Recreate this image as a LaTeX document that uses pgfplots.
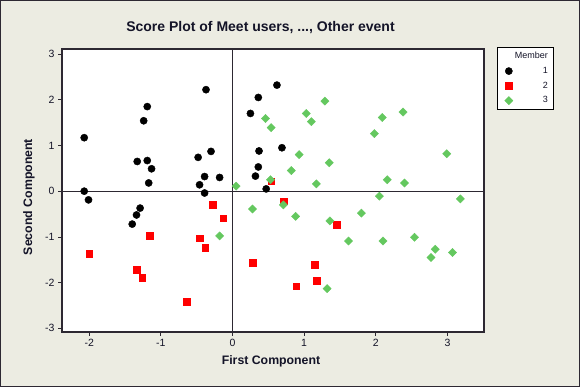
\documentclass[border=0pt]{standalone}
\usepackage{pgfplots}
\pgfplotsset{compat=1.18}
\usepackage{fontspec}
\setmainfont{Liberation Sans}
\definecolor{bgcol}{RGB}{236,236,226}
\definecolor{grn}{RGB}{100,200,95}
\definecolor{frame}{RGB}{45,40,50}
\definecolor{txt}{RGB}{20,20,40}
\begin{document}
\begin{tikzpicture}[x=1pt,y=1pt]
\fill[bgcol] (0,0) rectangle (580,387);
\draw[frame, line width=1pt] (0.5,0.5) rectangle (579.5,386.5);
\node[txt, font=\fontsize{14}{16}\selectfont\bfseries] at (260.5,359) {Score Plot of Meet users, ..., Other event};
\node[txt, font=\fontsize{12.3}{14}\selectfont\bfseries] at (271,25.5) {First Component};
\node[txt, font=\fontsize{12.3}{14}\selectfont\bfseries, rotate=90] at (29,190) {Second Component};
\begin{axis}[at={(62pt,55pt)}, anchor=south west, scale only axis,
  width=422pt, height=283pt,
  xmin=-2.38, xmax=3.51, ymin=-3.08, ymax=3.11,
  axis background/.style={fill=white},
  xtick={-2,-1,0,1,2,3}, ytick={-3,-2,-1,0,1,2,3},
  tick align=outside, xtick pos=bottom, ytick pos=left,
  major tick length=4pt,
  axis line style={line width=1.2pt, color=frame},
  tick style={frame, line width=0.8pt},
  tick label style={font=\fontsize{10.5}{12}\selectfont, text=txt},
  /pgf/number format/assume math mode=true,
  legend style={at={(1.031,1.007)}, anchor=north west, draw=black, fill=white,
    font=\fontsize{9}{10}\selectfont, row sep=3pt, inner sep=3pt, text=txt},
  legend cell align=right,
]
\draw[frame, line width=0.8pt] (axis cs:0,-3.08) -- (axis cs:0,3.11);
\draw[frame, line width=0.8pt] (axis cs:-2.38,0) -- (axis cs:3.51,0);
\addlegendimage{empty legend}
\addlegendentry{Member}
\addplot[only marks, mark=*, mark size=3.6pt, black] coordinates {
(-0.37,2.22) (-1.19,1.85) (-1.24,1.54) (-2.07,1.17) (-0.30,0.87) (-0.48,0.74)
(-1.33,0.65) (-1.19,0.67) (-1.13,0.49) (-1.17,0.18) (-0.39,0.32) (-0.18,0.30)
(-0.46,0.14) (-0.39,-0.04) (-2.07,0.00) (-2.01,-0.19) (-1.29,-0.37) (-1.34,-0.52)
(-1.40,-0.72) (0.62,2.32) (0.36,2.05) (0.25,1.70) (0.69,0.95) (0.37,0.88)
(0.36,0.53) (0.32,0.33) (0.47,0.05)
};
\addlegendentry{\makebox[30pt][r]{1}}
\addplot[only marks, mark=square*, mark size=3.4pt, red] coordinates {
(-0.28,-0.30) (-0.13,-0.59) (-1.16,-0.98) (-0.46,-1.03) (-0.38,-1.23) (-2.00,-1.36)
(-1.34,-1.71) (-1.26,-1.89) (-0.64,-2.41) (0.54,0.22) (0.71,-0.22) (1.45,-0.74)
(0.28,-1.56) (1.15,-1.60) (1.17,-1.95) (0.89,-2.08)
};
\addlegendentry{\makebox[30pt][r]{2}}
\addplot[only marks, mark=square*, mark size=2.9pt, mark options={rotate=45}, grn] coordinates {
(1.29,1.97) (1.03,1.70) (0.46,1.59) (1.10,1.52) (0.54,1.39) (2.38,1.73)
(2.09,1.61) (1.98,1.26) (0.93,0.80) (2.99,0.82) (1.35,0.62) (0.82,0.45)
(0.53,0.25) (0.05,0.11) (1.17,0.16) (2.16,0.25) (2.40,0.18) (2.05,-0.11)
(3.18,-0.17) (0.28,-0.39) (0.71,-0.30) (0.88,-0.55) (1.80,-0.48) (1.36,-0.65)
(1.62,-1.09) (2.10,-1.09) (2.54,-1.01) (2.83,-1.27) (2.77,-1.45) (3.07,-1.34)
(1.32,-2.13) (-0.18,-0.98)
};
\addlegendentry{\makebox[30pt][r]{3}}
\end{axis}
\end{tikzpicture}
\end{document}
